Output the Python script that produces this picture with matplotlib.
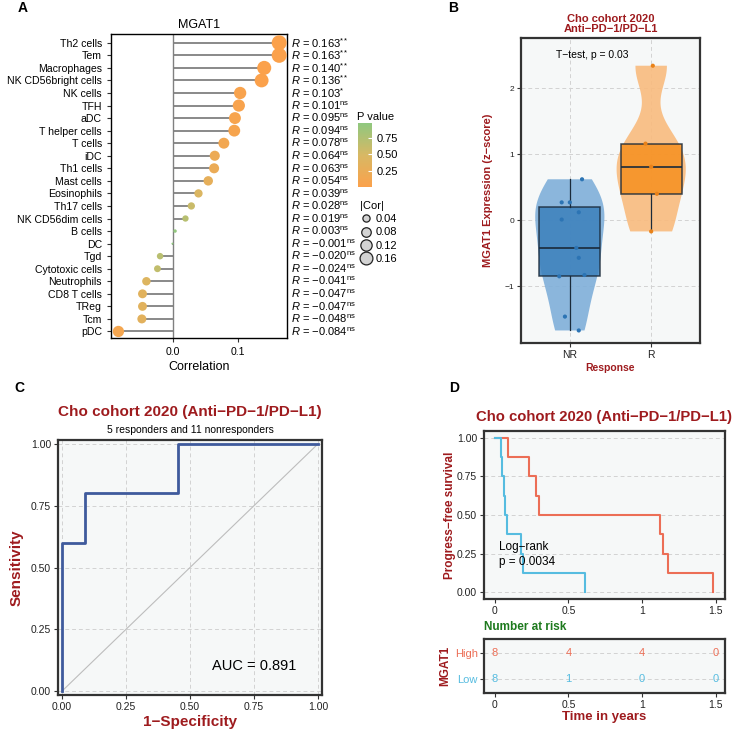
import numpy as np
import matplotlib
matplotlib.use('Agg')
import matplotlib.pyplot as plt
from matplotlib.colors import LinearSegmentedColormap, Normalize
from matplotlib.cm import ScalarMappable
from matplotlib.lines import Line2D
import matplotlib.transforms as mtrans

plt.rcParams['font.family'] = ['Liberation Sans', 'DejaVu Sans']
plt.rcParams['mathtext.fontset'] = 'custom'
plt.rcParams['mathtext.rm'] = 'Liberation Sans'
plt.rcParams['mathtext.it'] = 'Liberation Sans:italic'
plt.rcParams['mathtext.bf'] = 'Liberation Sans:bold'

# ---------------- data ----------------
cells = ["Th2 cells", "Tem", "Macrophages", "NK CD56bright cells", "NK cells", "TFH",
         "aDC", "T helper cells", "T cells", "iDC", "Th1 cells", "Mast cells",
         "Eosinophils", "Th17 cells", "NK CD56dim cells", "B cells", "DC", "Tgd",
         "Cytotoxic cells", "Neutrophils", "CD8 T cells", "TReg", "Tcm", "pDC"]
cor_vals = [0.163, 0.163, 0.140, 0.136, 0.103, 0.101, 0.095, 0.094, 0.078, 0.064,
            0.063, 0.054, 0.039, 0.028, 0.019, 0.003, -0.001, -0.020, -0.024,
            -0.041, -0.047, -0.047, -0.048, -0.084]
sig_marks = ["**", "**", "**", "**", "*", "ns", "ns", "ns", "ns", "ns", "ns", "ns",
             "ns", "ns", "ns", "ns", "ns", "ns", "ns", "ns", "ns", "ns", "ns", "ns"]
p_vals = [0.0014, 0.0014, 0.006, 0.008, 0.045, 0.05, 0.065, 0.068, 0.13, 0.21,
          0.22, 0.29, 0.45, 0.59, 0.71, 0.95, 0.98, 0.70, 0.64, 0.42, 0.36, 0.36,
          0.35, 0.10]
size_legend_vals = [0.04, 0.08, 0.12, 0.16]

nr_expr = [0.62, 0.27, 0.27, 0.12, 0.01, -0.42, -0.57, -0.85, -0.83, -1.46, -1.67]
r_expr = [2.34, 1.16, 0.81, 0.40, -0.17]
nr_jitter = [0.15, -0.10, 0.0, 0.11, -0.10, 0.08, 0.11, -0.13, 0.18, -0.06, 0.11]
r_jitter = [0.02, -0.07, 0.0, 0.07, 0.0]

roc_fpr = [0.0, 0.0, 0.091, 0.091, 0.455, 0.455, 1.0]
roc_tpr = [0.0, 0.6, 0.6, 0.8, 0.8, 1.0, 1.0]
auc_value = 0.891

high_times = [0.09, 0.23, 0.28, 0.30, 1.12, 1.14, 1.18, 1.48]
low_times = [0.04, 0.05, 0.06, 0.07, 0.08, 0.18, 0.19, 0.61]
risk_times = [0, 0.5, 1, 1.5]

DARKRED = '#9E1B1E'
HIGH_C = '#EC6E56'
LOW_C = '#56BCE0'
BG = '#F6F8F8'
GRID = '#D2D2D2'
SPINE = '#333333'

W, H = 738, 733
fig = plt.figure(figsize=(W / 100, H / 100), dpi=100)


def axpx(l, t, r, b):
    return fig.add_axes([l / W, 1 - b / H, (r - l) / W, (b - t) / H])


def ftext(x, y, s, **kw):
    fig.text(x / W, 1 - y / H, s, **kw)


def style_gg(ax):
    ax.set_facecolor(BG)
    for sp in ax.spines.values():
        sp.set_color(SPINE)
        sp.set_linewidth(1.6)
    ax.tick_params(colors='#333333', length=3, width=0.8, labelcolor='#222222', pad=2)
    ax.set_axisbelow(True)


# ---------------- Panel A ----------------
axa = axpx(111, 34, 287, 338)
n = len(cells)
ypos = np.arange(n)[::-1]
cor = np.array(cor_vals)
pv = np.array(p_vals)
cmap = LinearSegmentedColormap.from_list('pv', ['#FBA14B', '#D8B864', '#8FC87F'])
norm = Normalize(pv.min(), pv.max())
absc = np.abs(cor)
diam_px = 2 + 13 * np.sqrt((absc - absc.min()) / (absc.max() - absc.min()))
axa.axvline(0, color='#808080', lw=1.0, zorder=1)
axa.hlines(ypos, 0, cor, color='#808080', lw=1.3, zorder=1)
axa.scatter(cor, ypos, s=(diam_px * 0.72) ** 2, c=pv, cmap=cmap, norm=norm,
            edgecolors='none', zorder=3)
axa.set_xlim(-0.0954, 0.175)
axa.set_ylim(-0.52, n - 1 + 0.7)
axa.set_yticks(ypos)
axa.set_yticklabels(cells, fontsize=7.6)
axa.set_xticks([0, 0.1])
axa.set_xticklabels(['0.0', '0.1'], fontsize=7.6)
axa.tick_params(length=3, width=0.8, color='#333333')
for sp in axa.spines.values():
    sp.set_linewidth(1.0)
axa.set_title('MGAT1', fontsize=9, pad=4)
axa.set_xlabel('Correlation', fontsize=9, labelpad=3)
trans = mtrans.blended_transform_factory(axa.transAxes, axa.transData)
for yv, v, s in zip(ypos, cor, sig_marks):
    vs = f'{v:.3f}'.replace('-', '\u2212')
    sup = r'$^{\mathrm{ns}}$' if s == 'ns' else '$^{' + s + '}$'
    axa.text(1.025, yv, '$R$ = ' + vs + sup, transform=trans, fontsize=8,
             va='center', ha='left')

cax = axpx(358, 123, 372, 187)
cb = fig.colorbar(ScalarMappable(norm=norm, cmap=cmap), cax=cax)
cb.set_ticks([0.25, 0.5, 0.75])
cb.ax.tick_params(length=3, width=0.8, color='white', labelsize=8, direction='in')
cb.outline.set_visible(False)
ftext(357, 117, 'P value', fontsize=8, va='center')

lv = np.array(size_legend_vals)
leg_d = 2 + 13 * np.sqrt((lv - absc.min()) / (absc.max() - absc.min()))
handles = [Line2D([], [], marker='o', ls='none', markerfacecolor='#D3D3D3',
                  markeredgecolor='#222222', markeredgewidth=0.9,
                  markersize=d * 0.62) for d in leg_d]
leg = fig.legend(handles, [f'{v:.2f}' for v in lv], title='|Cor|', loc='upper left',
                 bbox_to_anchor=(352 / W, 1 - 193 / H), frameon=False, fontsize=8,
                 title_fontsize=8, handletextpad=0.2, labelspacing=0.3,
                 borderpad=0.2, handlelength=1.2)
leg._legend_box.align = 'left'

# ---------------- Panel B ----------------
axb = axpx(521, 38, 700, 343)
style_gg(axb)
axb.grid(True, ls=(0, (4, 3)), color=GRID, lw=0.7)


def nrd0(kde):
    d = kde.dataset[0]
    sd = d.std(ddof=1)
    iqr = np.subtract(*np.percentile(d, [75, 25]))
    h = 0.9 * min(sd, iqr / 1.34) * len(d) ** -0.2
    return h / sd


groups = [nr_expr, r_expr]
jit = [nr_jitter, r_jitter]
vcol = ['#7FAFD9', '#F9BB7E']
bcol = ['#3B80BC', '#F6901F']
pcol = ['#2C74B4', '#E98219']
for i, (g, vc) in enumerate(zip(groups, vcol)):
    vp = axb.violinplot([g], positions=[i + 1], widths=0.85, showextrema=False,
                        bw_method=nrd0, points=200)
    for b in vp['bodies']:
        b.set_facecolor(vc)
        b.set_edgecolor('none')
        b.set_alpha(0.9)
        b.set_zorder(2)
bp = axb.boxplot(groups, positions=[1, 2], widths=0.75, patch_artist=True,
                 showfliers=False, whis=1.5, zorder=3,
                 medianprops=dict(color='#1a2a3a', lw=1.2),
                 whiskerprops=dict(color='#1a2a3a', lw=0.9),
                 capprops=dict(lw=0), boxprops=dict(lw=1.1, edgecolor='#1a2a3a'))
for patch, c in zip(bp['boxes'], bcol):
    patch.set_facecolor(c)
    patch.set_alpha(0.85)
for i, (g, j, c) in enumerate(zip(groups, jit, pcol)):
    axb.scatter(np.array(j) + i + 1, g, s=9, color=c, zorder=4, edgecolors='none')
axb.set_xlim(0.4, 2.6)
axb.set_ylim(-1.86, 2.76)
axb.set_xticks([1, 2])
axb.set_xticklabels(['NR', 'R'], fontsize=7.5)
axb.set_yticks([-1, 0, 1, 2])
axb.set_yticklabels(['\u22121', '0', '1', '2'], fontsize=6)
axb.text(1.27, 2.5, 'T\u2212test, p = 0.03', ha='center', va='center', fontsize=7.5)
axb.set_title('Cho cohort 2020\nAnti\u2212PD\u22121/PD\u2212L1', color=DARKRED,
              fontweight='bold', fontsize=8, pad=4, linespacing=1.1)
axb.set_ylabel('MGAT1 Expression (z\u2212score)', color=DARKRED, fontweight='bold',
               fontsize=8, labelpad=8)
axb.set_xlabel('Response', color=DARKRED, fontweight='bold', fontsize=7.5, labelpad=2)

# ---------------- Panel C ----------------
axc = axpx(58, 440, 322, 695)
style_gg(axc)
axc.grid(True, ls=(0, (4, 3)), color=GRID, lw=0.7)
axc.plot([0, 1], [0, 1], color='#BDBDBD', lw=0.8, zorder=2)
axc.plot(roc_fpr, roc_tpr, color='#3F5A9C', lw=2.0, zorder=3)
axc.set_xlim(-0.016, 1.016)
axc.set_ylim(-0.016, 1.016)
tk = [0, 0.25, 0.5, 0.75, 1.0]
axc.set_xticks(tk)
axc.set_xticklabels([f'{t:.2f}' for t in tk], fontsize=7.5)
axc.set_yticks(tk)
axc.set_yticklabels([f'{t:.2f}' for t in tk], fontsize=7.5)
axc.text(0.75, 0.1, f'AUC = {auc_value:.3f}', ha='center', va='center', fontsize=10.5)
axc.text(0.5, 1.11, 'Cho cohort 2020 (Anti\u2212PD\u22121/PD\u2212L1)', transform=axc.transAxes,
         ha='center', va='center', fontsize=11, fontweight='bold', color=DARKRED)
axc.text(0.5, 1.04, '5 responders and 11 nonresponders', transform=axc.transAxes,
         ha='center', va='center', fontsize=7.5)
axc.set_ylabel('Sensitivity', color=DARKRED, fontweight='bold', fontsize=11, labelpad=5)
axc.set_xlabel('1\u2212Specificity', color=DARKRED, fontweight='bold', fontsize=11, labelpad=2)

# ---------------- Panel D ----------------
axd = axpx(484, 431, 725, 599)
style_gg(axd)
axd.grid(True, axis='y', ls=(0, (4, 3)), color=GRID, lw=0.7)


def km(times):
    t = np.sort(np.array(times))
    nn = len(t)
    xs = np.concatenate([[0], t])
    surv = np.concatenate([[1.0], 1 - np.arange(1, nn + 1) / nn])
    return xs, surv


for times, c in [(high_times, HIGH_C), (low_times, LOW_C)]:
    xs, sv = km(times)
    axd.step(xs, sv, where='post', color=c, lw=1.5, zorder=3)
axd.set_xlim(-0.0745, 1.5645)
axd.set_ylim(-0.045, 1.045)
axd.set_xticks(risk_times)
axd.set_xticklabels(['0', '0.5', '1', '1.5'], fontsize=7.5)
axd.set_yticks(tk)
axd.set_yticklabels([f'{t:.2f}' for t in tk], fontsize=7.5)
axd.text(0.03, 0.29, 'Log\u2212rank', fontsize=8.5, va='center')
axd.text(0.03, 0.195, 'p = 0.0034', fontsize=8.5, va='center')
axd.set_ylabel('Progress\u2212free survival', color=DARKRED, fontweight='bold',
               fontsize=8.5)
axd.yaxis.set_label_coords(-0.118, 0.5)
axd.set_title('Cho cohort 2020 (Anti\u2212PD\u22121/PD\u2212L1)', color=DARKRED,
              fontweight='bold', fontsize=10.7, pad=7)

axr = axpx(484, 639, 725, 693)
style_gg(axr)
axr.set_xlim(-0.0745, 1.5645)
axr.set_ylim(-0.54, 1.54)
axr.set_yticks([0, 1])
axr.set_yticklabels(['Low', 'High'], fontsize=8)
axr.tick_params(axis='y', pad=1.5)
for lab, c in zip(axr.get_yticklabels(), [LOW_C, HIGH_C]):
    lab.set_color(c)
axr.grid(True, axis='y', ls=(0, (4, 3)), color=GRID, lw=0.7)
for row, (times, c) in enumerate([(low_times, LOW_C), (high_times, HIGH_C)]):
    tt = np.array(times)
    for rt in risk_times:
        nr = int(np.sum(tt >= rt))
        axr.text(rt, row, str(nr), color=c, ha='center', va='center', fontsize=8, zorder=4)
axr.set_xticks(risk_times)
axr.set_xticklabels(['0', '0.5', '1', '1.5'], fontsize=7.5)
axr.set_xlabel('Time in years', color=DARKRED, fontweight='bold', fontsize=9.5, labelpad=1)
axr.set_ylabel('MGAT1', color=DARKRED, fontweight='bold', fontsize=8.5)
axr.yaxis.set_label_coords(-0.135, 0.5)
ftext(484, 627, 'Number at risk', color='#1E7A1E', fontweight='bold', fontsize=8.5,
      va='center', ha='left')

# panel labels
for lab, x, y in [('A', 18, 8), ('B', 448, 8), ('C', 14, 388), ('D', 449, 388)]:
    ftext(x, y, lab, fontsize=10, fontweight='bold', va='center', ha='left')

fig.savefig('out.png', dpi=100)
